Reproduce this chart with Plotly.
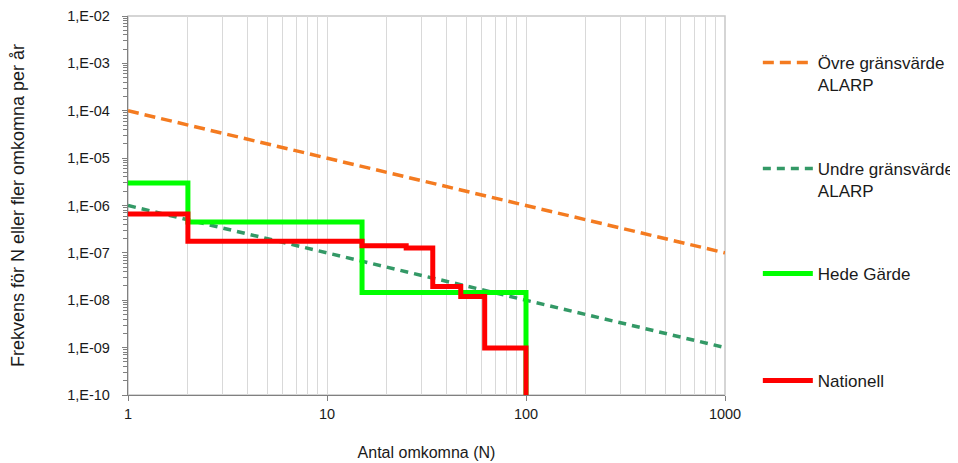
import plotly.graph_objects as go

# ---- data ----
alarp_n = [1, 1000]
upper_alarp = [1e-4, 1e-7]
lower_alarp = [1e-6, 1e-9]

hede_n = [1, 2, 15, 100]
hede_f = [3.0e-6, 4.5e-7, 1.45e-8, 1e-13]

nat_n = [1, 2, 15, 25, 34, 47, 62, 100]
nat_f = [6.6e-7, 1.75e-7, 1.42e-7, 1.27e-7, 1.95e-8, 1.2e-8, 9.8e-10, 1e-13]

y_tickvals = [1e-10, 1e-9, 1e-8, 1e-7, 1e-6, 1e-5, 1e-4, 1e-3, 1e-2]
y_ticktext = ["1,E-10", "1,E-09", "1,E-08", "1,E-07", "1,E-06", "1,E-05", "1,E-04", "1,E-03", "1,E-02"]
x_tickvals = [1, 10, 100, 1000]
x_ticktext = ["1", "10", "100", "1000"]

names = ["Övre gränsvärde<br>ALARP", "Undre gränsvärde<br>ALARP", "Hede Gärde", "Nationell"]

FONT = "Liberation Sans, Arial, sans-serif"
TXT = "#1a1a1a"

fig = go.Figure()
fig.add_trace(go.Scatter(x=alarp_n, y=upper_alarp, mode="lines", name=names[0],
                         line=dict(color="#F47B20", width=3.5, dash="11px,6px"), legend="legend"))
fig.add_trace(go.Scatter(x=alarp_n, y=lower_alarp, mode="lines", name=names[1],
                         line=dict(color="#339966", width=3.5, dash="8px,6px"), legend="legend2"))
fig.add_trace(go.Scatter(x=hede_n, y=hede_f, mode="lines", name=names[2], line_shape="hv",
                         line=dict(color="#00FF00", width=5), legend="legend3"))
fig.add_trace(go.Scatter(x=nat_n, y=nat_f, mode="lines", name=names[3], line_shape="hv",
                         line=dict(color="#FF0000", width=5), legend="legend4"))

minor_x = [m * 10 ** d for d in range(0, 3) for m in range(2, 10)]
minor_y = [m * 10.0 ** d for d in range(-10, -2) for m in range(2, 10)]

# page body has an 8px margin, so the figure is made 8px smaller and shifted
OFF = 8
W, H = 958 - OFF, 463 - OFF
L, T = 128 - OFF, 16 - OFF
R = W - (725 - OFF)
B = H - (395 - OFF)
ph = H - T - B

def legpos(ypix):
    return (H - B - (ypix - OFF)) / ph

leg_common = dict(x=1.055, xanchor="left", yanchor="top", bgcolor="rgba(0,0,0,0)",
                  font=dict(family=FONT, size=17, color=TXT), itemwidth=50,
                  valign="top", tracegroupgap=0)

fig.update_layout(
    width=W, height=H,
    margin=dict(l=L, r=R, t=T, b=B, autoexpand=False),
    paper_bgcolor="white", plot_bgcolor="white",
    font=dict(family=FONT, size=14.5, color=TXT),
    showlegend=True,
    legend=dict(y=legpos(45), **leg_common),
    legend2=dict(y=legpos(151), **leg_common),
    legend3=dict(y=legpos(256), **leg_common),
    legend4=dict(y=legpos(363), **leg_common),
    xaxis=dict(type="log", range=[0, 3], tickmode="array", tickvals=x_tickvals, ticktext=x_ticktext,
               showgrid=True, gridcolor="#D9D9D9", gridwidth=1, automargin=False,
               ticks="outside", ticklen=5, tickcolor="#808080",
               showline=True, linecolor="#808080", linewidth=1.3,
               minor=dict(tickmode="array", tickvals=minor_x, showgrid=True, gridcolor="#D9D9D9",
                          gridwidth=1, ticks=""),
               tickfont=dict(size=14.5, color=TXT),
               title=dict(text="Antal omkomna (N)", font=dict(size=16, color=TXT), standoff=26),
               zeroline=False),
    yaxis=dict(type="log", range=[-10, -2], tickmode="array", tickvals=y_tickvals, ticktext=y_ticktext,
               showgrid=False, automargin=False,
               ticks="outside", ticklen=5, tickcolor="#808080", ticklabelstandoff=9,
               showline=True, linecolor="#808080", linewidth=1.3,
               minor=dict(tickmode="array", tickvals=minor_y, ticks="outside", ticklen=4,
                          tickcolor="#808080", showgrid=False),
               tickfont=dict(size=14.5, color=TXT),
               title=dict(text="Frekvens för N eller fler omkomna per år", font=dict(size=18, color=TXT),
                          standoff=37),
               zeroline=False),
    shapes=[dict(type="rect", xref="paper", yref="paper", x0=0, x1=1, y0=0, y1=1,
                 line=dict(color="#C8C8C8", width=1.5), layer="below")],
)

fig.write_html("out.html")
